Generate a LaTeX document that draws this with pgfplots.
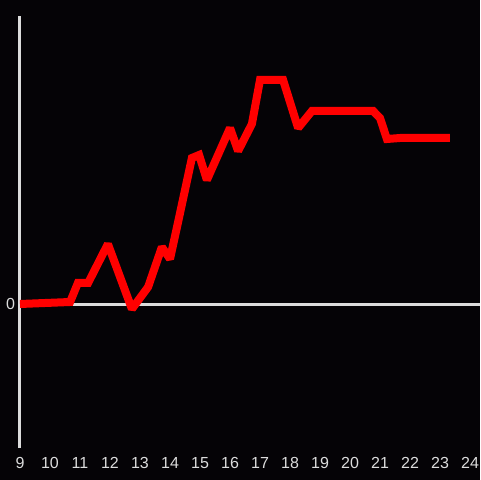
\documentclass[border=0pt]{standalone}
\usepackage{pgfplots}
\pgfplotsset{compat=1.18}
\usepackage{fontspec}
\setmainfont{Liberation Sans}
\definecolor{bg}{RGB}{5,3,6}
\definecolor{axisgray}{RGB}{220,220,220}
\begin{document}
\begin{tikzpicture}
\fill[bg] (-10pt,-16pt) rectangle (230pt,224pt);
\useasboundingbox (-10pt,-16pt) rectangle (230pt,224pt);
\begin{axis}[
    scale only axis,
    width=230pt, height=216pt,
    xmin=9, xmax=24.3333,
    ymin=-144, ymax=288,
    axis x line*=bottom,
    axis y line*=left,
    x axis line style={draw=none},
    y axis line style={axisgray, line width=1.5pt, -},
    xtick={9,10,...,24},
    ytick={0},
    major tick length=0pt,
    tick style={draw=none},
    ticklabel style={font=\fontsize{8}{9}\selectfont, text=axisgray},
    xticklabel style={yshift=-1pt},
    yticklabel style={xshift=1pt},
    /pgf/number format/assume math mode=true,
    clip=false,
]
\addplot[axisgray, line width=1.5pt] coordinates {(9,-0.5) (24.3333,-0.5)};
\addplot[red, line width=4pt, line join=miter, miter limit=2] coordinates {
(9,0) (10.67,2) (10.93,21) (11.27,21) (11.93,60) (12.73,-5) (13.27,17)
(13.73,57) (14,45) (14.27,82) (14.73,146) (14.97,149) (15.23,124)
(16,176) (16.27,153) (16.73,180) (17,224) (17.77,224) (18.27,176)
(18.73,193) (20.77,193) (21,186) (21.23,165) (21.67,166) (23.33,166)
};
\end{axis}
\end{tikzpicture}
\end{document}
